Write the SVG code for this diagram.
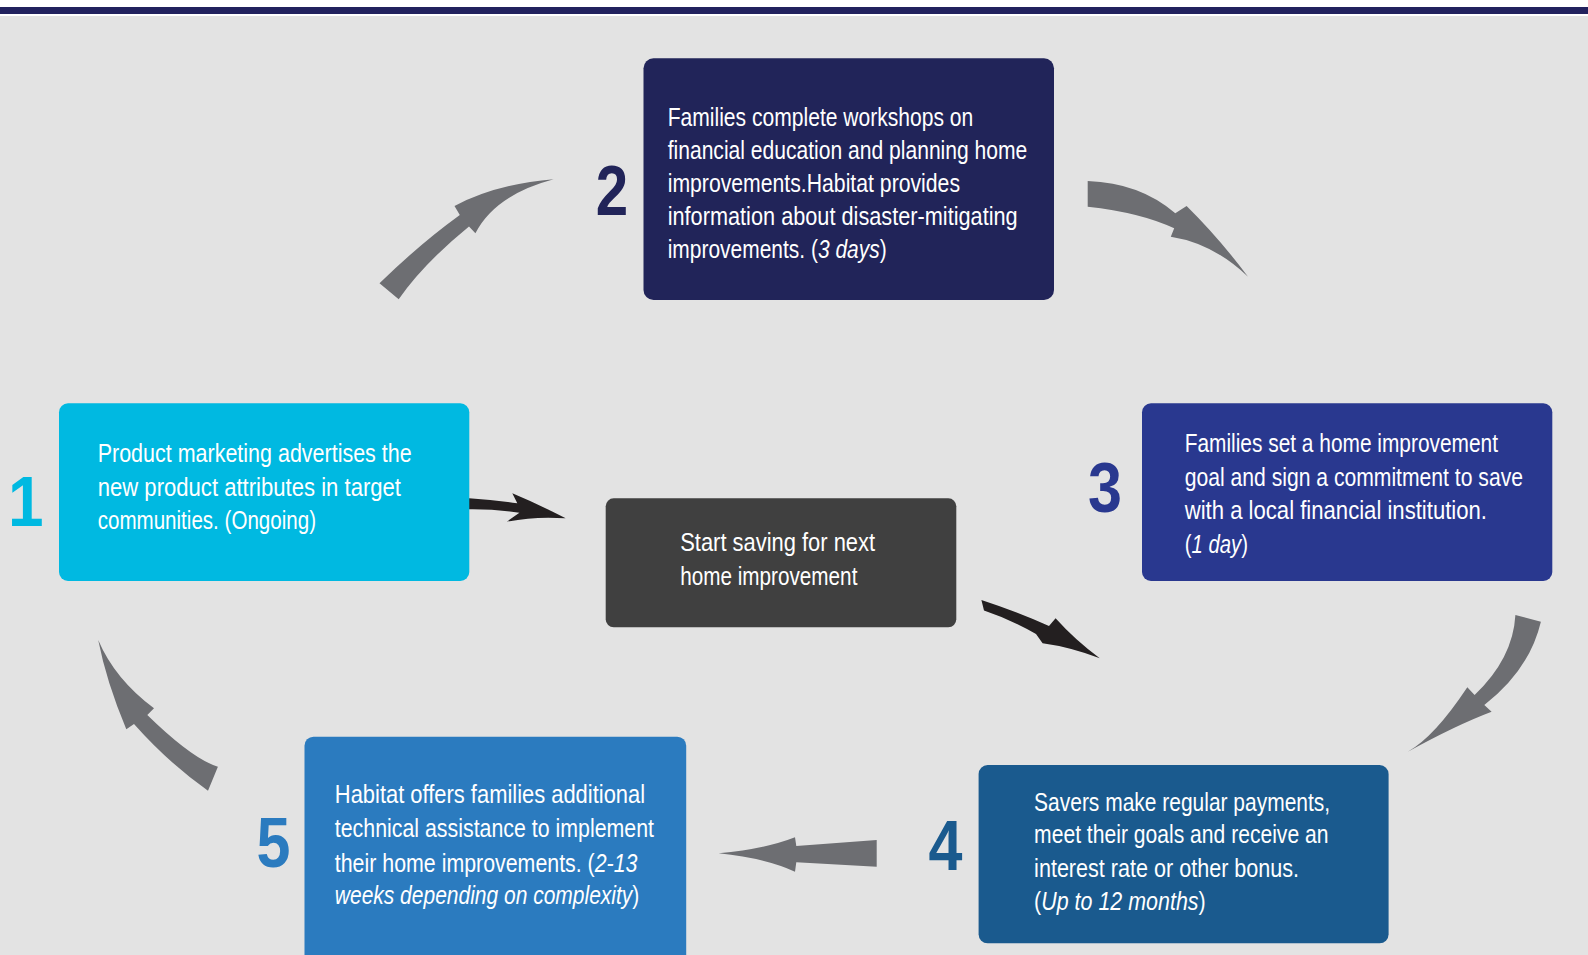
<svg xmlns="http://www.w3.org/2000/svg" width="1588" height="955" viewBox="0 0 1588 955">
<style>
.t{font-family:"Liberation Sans Narrow","Liberation Sans",Arial,sans-serif;font-size:25px;fill:#ffffff}
.i{font-style:italic}
.d{font-family:"Liberation Sans",Arial,sans-serif;font-weight:bold;font-size:71px;text-anchor:middle}
.ga{fill:#6d6e72}
.ba{fill:#231f20}
</style>
<rect x="0" y="0" width="1588" height="955" fill="#e3e3e3"/>
<rect x="0" y="0" width="1588" height="7" fill="#ffffff"/>
<rect x="0" y="7" width="1588" height="7" fill="#22225e"/>
<rect x="0" y="14" width="1588" height="2" fill="#ffffff"/>

<g id="connectors">
  <path class="ga" d="M379.5,283.3 Q419.5,244.2 459.8,215 L454.5,206 Q496,184 553.6,179.3 Q495,195 475.4,233.3 L469,226.5 Q423.3,263.7 398.7,299.3 Z"/>
  <path class="ga" d="M1087.7,181 Q1140,182.8 1175.3,213.3 L1186.6,206 Q1219,238 1248,276.7 Q1213.2,243.3 1170.8,236.7 L1174.2,228.3 Q1140.6,212.5 1087.7,206.7 Z"/>
  <path class="ga" d="M1515.4,615 Q1513,658.4 1474.6,695 L1467.3,687.3 Q1434.4,737 1407.8,751.7 Q1456.3,725 1491.6,711.7 L1484.3,705 Q1529.4,670 1540.9,621.7 Z"/>
  <path class="ga" d="M876.7,840 L796.3,846 L795,837.3 Q765,849 718.7,853.3 Q765,858 795,871.7 L796.3,862.3 L876.7,866.7 Z"/>
  <path class="ga" d="M217.9,766.7 Q192.4,759 147.3,715 L154,708.3 Q114.9,679.2 98.2,640 Q106.5,682 126.3,729.3 L134,724 Q168.2,762.6 208,790.7 Z"/>
  <path class="ba" d="M469,498.3 Q495,500 517.3,503.3 L512.3,493.3 Q538,504 565.7,518.3 Q535,516 506.8,521.7 L519.4,512.7 Q495,509 469,509.3 Z"/>
  <path class="ba" d="M981.4,600 Q1018,612 1049,626 L1055.6,618.3 Q1075,640 1099.8,658.3 Q1070,647 1042.6,643.3 L1036,634 Q1012,620 984,610.5 Z"/>
</g>

<g id="node1">
  <rect x="59" y="403.3" width="410.3" height="177.7" rx="9" fill="#00b9e1"/>
  <text class="d" fill="#00b9e1" transform="translate(25.8,525.7) scale(0.9,1)">1</text>
  <text class="t" x="97.7" y="461.7" textLength="314" lengthAdjust="spacingAndGlyphs">Product marketing advertises the</text>
  <text class="t" x="97.7" y="495.7" textLength="303.3" lengthAdjust="spacingAndGlyphs">new product attributes in target</text>
  <text class="t" x="97.7" y="529.3" textLength="218.3" lengthAdjust="spacingAndGlyphs">communities. (Ongoing)</text>
</g>

<g id="node2">
  <rect x="643.5" y="58.3" width="410.5" height="241.7" rx="10" fill="#212459"/>
  <text class="d" fill="#212459" transform="translate(612,215) scale(0.82,1)">2</text>
  <text class="t" x="667.7" y="126" textLength="305.6" lengthAdjust="spacingAndGlyphs">Families complete workshops on</text>
  <text class="t" x="667.7" y="159.1" textLength="359.6" lengthAdjust="spacingAndGlyphs">financial education and planning home</text>
  <text class="t" x="667.7" y="192.2" textLength="292.3" lengthAdjust="spacingAndGlyphs">improvements.Habitat provides</text>
  <text class="t" x="667.7" y="225.3" textLength="350" lengthAdjust="spacingAndGlyphs">information about disaster-mitigating</text>
  <text class="t" x="667.7" y="258.3" textLength="219" lengthAdjust="spacingAndGlyphs">improvements. (<tspan class="i">3 days</tspan>)</text>
</g>

<g id="node3">
  <rect x="1142" y="403.3" width="410.3" height="177.7" rx="9" fill="#29388f"/>
  <text class="d" fill="#29388f" transform="translate(1105,511.7) scale(0.86,1)">3</text>
  <text class="t" x="1184.7" y="451.7" textLength="313.3" lengthAdjust="spacingAndGlyphs">Families set a home improvement</text>
  <text class="t" x="1184.7" y="485.7" textLength="338.3" lengthAdjust="spacingAndGlyphs">goal and sign a commitment to save</text>
  <text class="t" x="1184.7" y="519.3" textLength="302.3" lengthAdjust="spacingAndGlyphs">with a local financial institution.</text>
  <text class="t" x="1184.7" y="552.7" textLength="63.3" lengthAdjust="spacingAndGlyphs">(<tspan class="i">1 day</tspan>)</text>
</g>

<g id="node-center">
  <rect x="605.7" y="498.3" width="350.6" height="129" rx="8" fill="#404040"/>
  <text class="t" x="680.2" y="551" textLength="194.9" lengthAdjust="spacingAndGlyphs">Start saving for next</text>
  <text class="t" x="680.2" y="585" textLength="177.2" lengthAdjust="spacingAndGlyphs">home improvement</text>
</g>

<g id="node4">
  <rect x="978.6" y="765" width="410" height="178.3" rx="9" fill="#1a5a8e"/>
  <text class="d" fill="#1a5a8e" transform="translate(945.5,870) scale(0.86,1)">4</text>
  <text class="t" x="1034.1" y="810.7" textLength="296" lengthAdjust="spacingAndGlyphs">Savers make regular payments,</text>
  <text class="t" x="1034.1" y="843.3" textLength="294.4" lengthAdjust="spacingAndGlyphs">meet their goals and receive an</text>
  <text class="t" x="1034.1" y="877.3" textLength="265" lengthAdjust="spacingAndGlyphs">interest rate or other bonus.</text>
  <text class="t" x="1034.1" y="910" textLength="171.6" lengthAdjust="spacingAndGlyphs">(<tspan class="i">Up to 12 months</tspan>)</text>
</g>

<g id="node5">
  <rect x="304.5" y="736.7" width="381.7" height="240" rx="9" fill="#2b7bbf"/>
  <text class="d" fill="#2b7bbf" transform="translate(273.4,866.7) scale(0.86,1)">5</text>
  <text class="t" x="334.8" y="803.3" textLength="310.3" lengthAdjust="spacingAndGlyphs">Habitat offers families additional</text>
  <text class="t" x="334.8" y="837.3" textLength="319.2" lengthAdjust="spacingAndGlyphs">technical assistance to implement</text>
  <text class="t" x="334.8" y="871.7" textLength="302.7" lengthAdjust="spacingAndGlyphs">their home improvements. (<tspan class="i">2-13</tspan></text>
  <text class="t" x="334.8" y="904" textLength="304.5" lengthAdjust="spacingAndGlyphs"><tspan class="i">weeks depending on complexity</tspan>)</text>
</g>
</svg>
